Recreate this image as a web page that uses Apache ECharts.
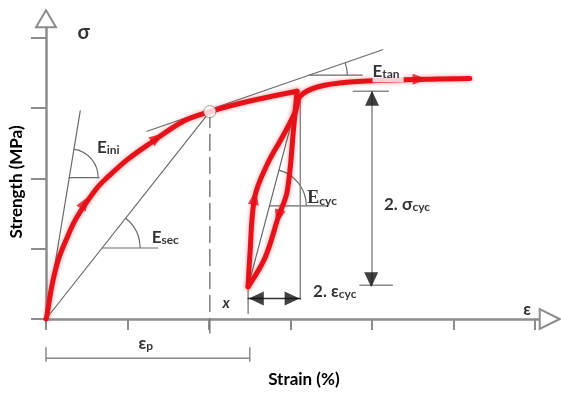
<!DOCTYPE html>
<html><head><meta charset="utf-8">
<script src="https://cdn.jsdelivr.net/npm/echarts@6/dist/echarts.min.js"></script>
<style>html,body{margin:0;padding:0;background:#fff}#c{width:561px;height:393px}</style>
</head><body><div id="c"></div>
<script>
// ---- data (axis units) ----
const xTicks = [0, 1, 2, 3, 4, 5, 6];
const yTicks = [0, 1, 2, 3, 4];
const loadCurve = [[0,0],[0.01,0.04],[0.07,0.46],[0.15,0.84],[0.26,1.16],[0.38,1.45],[0.63,1.87],[0.75,2.01],[0.99,2.26],[1.24,2.47],[1.68,2.81],[2.01,2.95],[2.50,3.10],[3.08,3.24]];
const unloadCurve = [[3.08,3.24],[3.04,2.74],[2.96,1.82],[2.85,1.45],[2.69,0.88],[2.48,0.46]];
const reloadCurve = [[2.48,0.46],[2.50,0.88],[2.56,1.73],[2.71,2.19],[2.91,2.61],[3.06,2.95],[3.12,3.17],[3.33,3.30],[3.73,3.37],[4.34,3.40],[5.20,3.42]];
const curveArrows = [[0.48,1.66],[1.37,2.58],[2.56,1.73],[2.85,1.45],[4.59,3.41]];
const curveArrowDir = [56, 34, 80, -105, 0];
const iniLine = [[0,0],[0.42,2.96]];
const iniBase = [[0.285,2.01],[0.65,2.01]];
const secLine = [[0,0],[2.01,2.95]];
const secBase = [[0.688,1.01],[1.37,1.01]];
const tanLine = [[1.24,2.67],[4.13,3.83]];
const tanBase = [[3.23,3.47],[3.88,3.47]];
const cycLine = [[2.48,0.46],[3.08,3.09]];
const cycBase = [[2.74,1.61],[3.46,1.61]];
const peakDrop = [[3.12,3.09],[3.12,0.28]];
const xMarkLine = [[2.48,0.46],[2.48,0.08]];
const dashedLine = [[2.01,2.95],[2.01,-0.2]];
const sigmaCycLine = [[4.0,3.24],[4.0,0.48]];
const sigmaCycTop = [[3.77,3.24],[4.20,3.24]];
const sigmaCycBottom = [[3.85,0.48],[4.25,0.48]];
const epsCycLine = [[2.48,0.29],[3.12,0.29]];
const epsPLine = [[0,-0.56],[2.50,-0.56]];
const epsPLeft = [[0,-0.41],[0,-0.60]];
const epsPRight = [[2.50,-0.41],[2.50,-0.60]];
const blackArrows = [[4.0,3.14],[3.99,0.56],[2.58,0.29],[3.02,0.29]];
const blackArrowDir = [90, -90, 180, 0];
const keyPoint = [[2.01,2.95]];
// arcs: [centre x, centre y, point on slanted line x, y]
const angleArcs = [[0.285,2.01,0.42,2.96],[0.688,1.01,2.01,2.95],[3.23,3.47,4.13,3.83],[2.74,1.61,3.08,3.09]];
const angleArcRadius = [29, 38, 38, 37];
const annotations = [
  {at:[0.38,4.07], text:'{g|σ}'},
  {at:[0.62,2.45], text:'{m|E}{s|ini}'},
  {at:[1.29,1.17], text:'{m|E}{s|sec}'},
  {at:[3.20,1.72], text:'{r|E}{s|cyc}'},
  {at:[4.00,3.53], text:'{m|E}{s|tan}', box:true},
  {at:[4.14,1.64], text:'{m|2. σ}{s|cyc}'},
  {at:[3.27,0.40], text:'{m|2. ε}{s|cyc}'},
  {at:[2.16,0.22], text:'{i|x}'},
  {at:[5.85,0.15], text:'{m|ε}'},
  {at:[1.13,-0.34], text:'{m|ε}{s|p}'}
];

// ---- styling ----
const FONT = 'Lato, "Noto Sans", "DejaVu Sans", sans-serif';
const RED = '#e5121a';
const GREY = '#6a6a6a';
const AXIS = '#8c8c8c';

function seg(data, opt) {
  opt = opt || {};
  return {
    type: 'line', data: data, showSymbol: false, symbol: 'none', clip: false, silent: true,
    smooth: opt.smooth || false, z: opt.z || 2, animation: false,
    lineStyle: { color: opt.color || GREY, width: opt.width || 1.2, type: opt.type || 'solid',
      cap: 'round', join: 'round',
      shadowBlur: opt.glow ? 4 : 0, shadowColor: opt.glow ? 'rgba(230,20,27,0.45)' : 'transparent' }
  };
}

const rich = {
  g: { fontFamily: FONT, fontSize: 20, fontWeight: 'bold', color: '#000' },
  m: { fontFamily: FONT, fontSize: 17, fontWeight: 'bold', color: '#000', lineHeight: 19, verticalAlign: 'bottom' },
  r: { fontFamily: '"Liberation Serif", serif', fontSize: 18, fontWeight: 'bold', color: '#000', lineHeight: 19, verticalAlign: 'bottom' },
  s: { fontFamily: FONT, fontSize: 12, fontWeight: 'bold', color: '#000', lineHeight: 10, verticalAlign: 'bottom' },
  i: { fontFamily: FONT, fontSize: 15, fontWeight: 'bold', fontStyle: 'italic', color: '#000' }
};

const series = [
  seg(dashedLine, { type: [16, 7], width: 1.5, color: '#7a7a7a' }),
  seg(iniLine), seg(iniBase), seg(secLine), seg(secBase), seg(tanLine), seg(tanBase),
  seg(cycLine), seg(cycBase), seg(peakDrop, { width: 1.5, color: '#8a8a8a' }),
  seg(xMarkLine, { width: 1.5, color: '#8a8a8a' }),
  seg(sigmaCycLine, { width: 1.5, color: '#8a8a8a' }), seg(sigmaCycTop, { width: 1.5, color: '#8a8a8a' }),
  seg(sigmaCycBottom, { width: 1.5, color: '#8a8a8a' }),
  seg(epsCycLine, { width: 1.5, color: '#333' }),
  seg(epsPLine, { width: 1.5, color: '#8a8a8a' }), seg(epsPLeft, { width: 1.5, color: '#8a8a8a' }),
  seg(epsPRight, { width: 1.5, color: '#8a8a8a' }),
  {
    type: 'custom', data: angleArcs, silent: true, z: 2, animation: false, clip: false,
    renderItem: function (params, api) {
      const c = api.coord([api.value(0), api.value(1)]);
      const p = api.coord([api.value(2), api.value(3)]);
      const ang = Math.atan2(c[1] - p[1], p[0] - c[0]);
      return { type: 'arc', shape: { cx: c[0], cy: c[1], r: angleArcRadius[params.dataIndex], startAngle: -ang, endAngle: 0, clockwise: true },
        style: { stroke: GREY, fill: null, lineWidth: 1.2 } };
    }
  },
  seg(loadCurve, { color: RED, width: 5, smooth: 0.35, z: 5, glow: true }),
  seg(unloadCurve, { color: RED, width: 5, smooth: 0.35, z: 5, glow: true }),
  seg(reloadCurve, { color: RED, width: 5, smooth: 0.35, z: 5, glow: true }),
  {
    type: 'scatter', silent: true, z: 6, animation: false, clip: false,
    symbol: 'triangle', symbolSize: [11, 15],
    itemStyle: { color: RED },
    data: curveArrows.map((p, i) => ({ value: p, symbolRotate: curveArrowDir[i] - 90 }))
  },
  {
    type: 'scatter', silent: true, z: 6, animation: false, clip: false,
    symbol: 'triangle', symbolSize: [14, 15],
    itemStyle: { color: '#111' },
    data: blackArrows.map((p, i) => ({ value: p, symbolRotate: blackArrowDir[i] - 90 }))
  },
  {
    type: 'scatter', silent: true, z: 7, animation: false, clip: false,
    symbol: 'circle', symbolSize: 12, data: keyPoint,
    itemStyle: { color: '#fff', borderColor: '#888', borderWidth: 1 }
  },
  {
    type: 'scatter', silent: true, z: 8, animation: false, clip: false,
    symbol: 'circle', symbolSize: 1, itemStyle: { color: 'rgba(0,0,0,0)' },
    data: annotations.map(a => ({
      value: a.at,
      label: {
        show: true, position: 'right', distance: 0, align: 'left', verticalAlign: 'middle',
        formatter: a.text, rich: rich,
        backgroundColor: a.box ? '#fff' : 'transparent', padding: a.box ? [2, 4, 2, 0] : 0
      }
    }))
  }
];

const chart = echarts.init(document.getElementById('c'), null, { renderer: 'canvas' });
chart.setOption({
  animation: false,
  backgroundColor: '#fff',
  grid: { left: 46, right: 11.3, top: 18.8, bottom: 70, containLabel: false },
  xAxis: {
    type: 'value', min: 0, max: 6.18, interval: 1,
    name: 'Strain (%)', nameLocation: 'middle', nameGap: 52,
    nameTextStyle: { fontFamily: FONT, fontSize: 17, fontWeight: 'bold', color: '#000', padding: [0, 0, 0, 12], verticalAlign: 'top' },
    axisLine: { show: true, lineStyle: { color: AXIS, width: 2.5 }, symbol: ['none', 'emptyTriangle'], symbolSize: [20, 20] },
    axisTick: { show: true, length: 11, lineStyle: { color: AXIS, width: 2 }, customValues: xTicks },
    axisLabel: { show: false }, splitLine: { show: false }
  },
  yAxis: {
    type: 'value', min: 0, max: 4.27, interval: 1,
    name: 'Strength (MPa)', nameLocation: 'middle', nameGap: 21, nameRotate: 90,
    nameTextStyle: { fontFamily: FONT, fontSize: 17, fontWeight: 'bold', color: '#000', padding: [0, 26, 0, 0], verticalAlign: 'bottom' },
    axisLine: { show: true, lineStyle: { color: AXIS, width: 2.5 }, symbol: ['none', 'emptyTriangle'], symbolSize: [20, 17] },
    axisTick: { show: true, length: 15, lineStyle: { color: AXIS, width: 2 }, customValues: yTicks },
    axisLabel: { show: false }, splitLine: { show: false }
  },
  series: series
});
</script>
</body></html>
